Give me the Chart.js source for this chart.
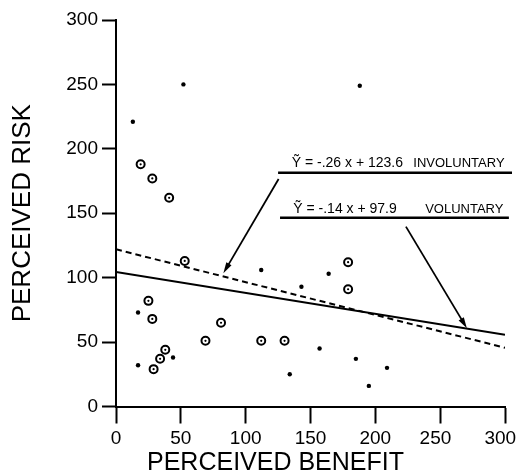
<!DOCTYPE html>
<html>
<head>
<meta charset="utf-8">
<title>Perceived risk vs perceived benefit</title>
<script src="https://cdn.jsdelivr.net/npm/chart.js@4.4.0/dist/chart.umd.min.js"></script>
<style>
  html, body { margin: 0; padding: 0; background: #fff; }
  canvas { display: block; }
</style>
</head>
<body>
<canvas id="chart" width="517" height="471"></canvas>
<script>
// tick values on both axes
const xTicks = [0, 50, 100, 150, 200, 250, 300];
const yTicks = [0, 50, 100, 150, 200, 250, 300];

// circled points (voluntary)
const volX = [19, 28, 41, 53, 25, 28, 81, 69, 112, 130, 38, 34, 29, 179, 179];
const volY = [188, 177, 162, 113, 82, 68, 65, 51, 51, 51, 44, 37, 29, 112, 91];

// plain dots (involuntary)
const invX = [52, 13, 188, 112, 143, 17, 44, 17, 134, 164, 157, 185, 209, 195];
const invY = [250, 221, 249, 106, 93, 73, 38, 32, 25, 103, 45, 37, 30, 16];

// fitted lines as drawn, value at x = 0 and x = 300
const lineX = [0, 300];
const volLineY = [104.5, 55.6];
const invLineY = [122, 45.6];

const invEq = 'Ỹ = -.26 x + 123.6';
const volEq = 'Ỹ = -.14 x + 97.9';

const FONT = '"Liberation Sans", Arial, sans-serif';

const pts = (xs, ys) => xs.map((v, i) => ({ x: v, y: ys[i] }));

function arrow(ctx, x1, y1, x2, y2) {
    const a = Math.atan2(y2 - y1, x2 - x1);
    const len = 11, half = 3;
    ctx.lineWidth = 1.8;
    ctx.beginPath();
    ctx.moveTo(x1, y1);
    ctx.lineTo(x2 - Math.cos(a) * len * 0.6, y2 - Math.sin(a) * len * 0.6);
    ctx.stroke();
    ctx.beginPath();
    ctx.moveTo(x2, y2);
    ctx.lineTo(x2 - Math.cos(a) * len - Math.sin(a) * half, y2 - Math.sin(a) * len + Math.cos(a) * half);
    ctx.lineTo(x2 - Math.cos(a) * len + Math.sin(a) * half, y2 - Math.sin(a) * len - Math.cos(a) * half);
    ctx.closePath();
    ctx.fill();
}

// equation labels, underlines, arrows and the x title
const notes = {
    id: 'notes',
    afterDatasetsDraw(chart) {
        const { ctx, scales: { x, y } } = chart;
        const X = v => x.getPixelForValue(v);
        const Y = v => y.getPixelForValue(v);
        ctx.save();
        ctx.fillStyle = '#000';
        ctx.strokeStyle = '#000';
        ctx.textAlign = 'left';
        ctx.textBaseline = 'alphabetic';

        ctx.font = '14px ' + FONT;
        ctx.fillText(invEq, X(135.5), Y(185.7));
        ctx.fillText(volEq, X(136.7), Y(150.4));
        ctx.font = '13px ' + FONT;
        ctx.fillText('INVOLUNTARY', X(229.3), Y(185.7));
        ctx.fillText('VOLUNTARY', X(238.4), Y(150.4));

        ctx.lineWidth = 2.5;
        ctx.beginPath();
        ctx.moveTo(X(125), Y(181.5));
        ctx.lineTo(X(305.4), Y(181.5));
        ctx.moveTo(X(126.5), Y(146.6));
        ctx.lineTo(X(303), Y(146.6));
        ctx.stroke();

        arrow(ctx, X(125.4), Y(176.6), X(82.8), Y(103.4));
        arrow(ctx, X(223.6), Y(139.6), X(270.6), Y(60.7));

        ctx.font = '25px ' + FONT;
        ctx.fillText('PERCEIVED BENEFIT', x.left + 31, x.bottom - 1);
        ctx.restore();
    }
};

new Chart(document.getElementById('chart'), {
    type: 'scatter',
    data: {
        datasets: [
            { data: pts(invX, invY), pointRadius: 2.2, pointBackgroundColor: '#000', pointBorderWidth: 0 },
            { data: pts(volX, volY), pointRadius: 1.1, pointBackgroundColor: '#000', pointBorderWidth: 0 },
            { data: pts(volX, volY), pointRadius: 4, pointBackgroundColor: '#fff', pointBorderColor: '#000', pointBorderWidth: 2 },
            { type: 'line', data: pts(lineX, volLineY), borderColor: '#000', borderWidth: 2, pointRadius: 0, fill: false },
            { type: 'line', data: pts(lineX, invLineY), borderColor: '#000', borderWidth: 2, borderDash: [6, 4], pointRadius: 0, fill: false }
        ]
    },
    options: {
        responsive: false,
        animation: false,
        layout: { padding: { top: 20, right: 12, left: 0, bottom: 0 } },
        plugins: { legend: { display: false }, tooltip: { enabled: false } },
        scales: {
            x: {
                type: 'linear', min: 0, max: 300,
                afterBuildTicks: s => { s.ticks = xTicks.map(v => ({ value: v })); },
                grid: { drawOnChartArea: false, drawTicks: true, tickLength: 17, tickWidth: 2, color: '#000' },
                border: { display: true, color: '#000', width: 2 },
                ticks: {
                    color: '#000', font: { family: FONT, size: 19 }, padding: 4, maxRotation: 0, autoSkip: false,
                    // the last two labels sit a little left of their ticks in the original
                    callback: v => v >= 250 ? v + '\u2002' : '' + v
                },
                afterFit: s => { s.height = 64.5; s.paddingLeft = 0; s.paddingRight = 0; }
            },
            y: {
                type: 'linear', min: 0, max: 300,
                afterBuildTicks: s => { s.ticks = yTicks.map(v => ({ value: v })); },
                grid: { drawOnChartArea: false, drawTicks: true, tickLength: 14, tickWidth: 2, color: '#000' },
                border: { display: true, color: '#000', width: 2 },
                ticks: { color: '#000', font: { family: FONT, size: 19 }, padding: 4, autoSkip: false },
                title: { display: true, text: 'PERCEIVED RISK', color: '#000', font: { family: FONT, size: 26 }, padding: { top: 7, bottom: 0 } },
                afterFit: s => { s.width = 116; s.paddingTop = 0; s.paddingBottom = 0; }
            }
        }
    },
    plugins: [notes]
});
</script>
</body>
</html>
